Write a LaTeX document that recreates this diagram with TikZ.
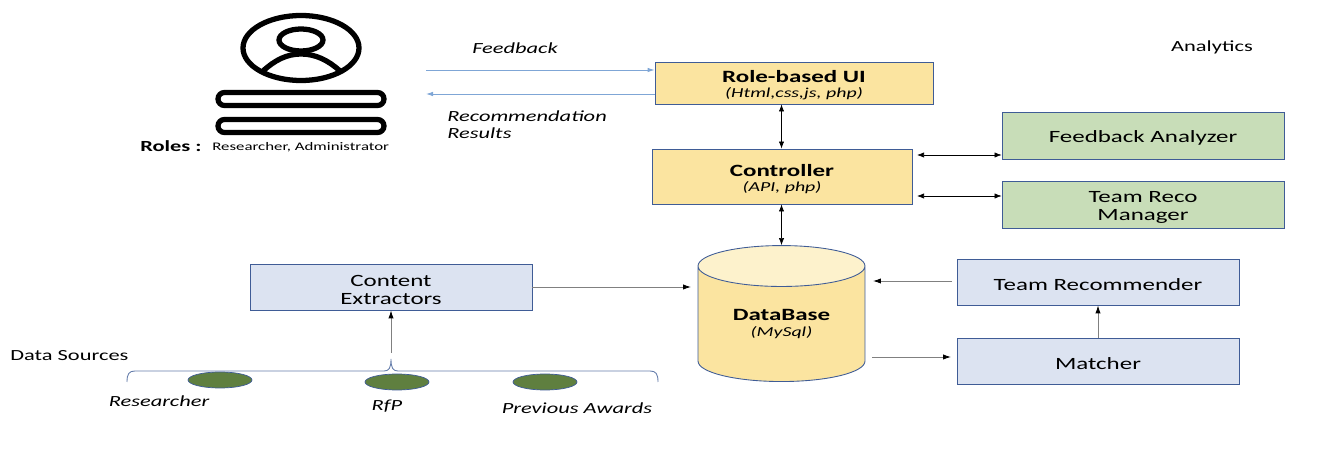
\documentclass[tikz,border=0pt]{standalone}
\usepackage{fontspec}
\setmainfont{Carlito}[FakeStretch=1.45]
\usetikzlibrary{shapes.geometric, arrows.meta}
\definecolor{goldbox}{HTML}{FBE4A0}
\definecolor{goldtop}{HTML}{FDF2CC}
\definecolor{greenbox}{HTML}{C8DDB8}
\definecolor{bluebox}{HTML}{DCE3F1}
\definecolor{boxline}{HTML}{3F5C96}
\definecolor{bluearrow}{HTML}{7FA6D6}
\definecolor{sourcefill}{HTML}{5F7F3F}
\newcommand{\subtext}{\fontsize{7.8}{8}\selectfont\itshape}
\newcommand{\dropline}{\rule{0pt}{9.5pt}}
\tikzset{
	box/.style = {draw = boxline, line width = .5pt, minimum width = 5.64cm, align = center, inner sep = 0pt, font = \fontsize{9.8}{10.2}\selectfont},
	goldnode/.style = {box, fill = goldbox},
	greennode/.style = {box, fill = greenbox},
	bluenode/.style = {box, fill = bluebox},
	label/.style = {inner sep = 0pt, font = \fontsize{8.8}{10}\selectfont},
	itlabel/.style = {inner sep = 0pt, font = \fontsize{8.8}{10}\selectfont\itshape},
	source/.style = {ellipse, draw = boxline, fill = sourcefill, line width = .4pt, minimum width = 1.28cm, minimum height = .32cm, inner sep = 0pt},
	link/.style = {-{Latex[length = 4.5pt, width = 3pt, black]}, line width = .5pt, black!50},
	duplex/.style = {{Latex[length = 4pt, width = 3pt]}-{Latex[length = 4pt, width = 3pt]}, line width = .35pt},
	reply/.style = {-{Latex[length = 4pt, width = 2.6pt]}, bluearrow, line width = .5pt},
}
\begin{document}
\begin{tikzpicture}[x = .02cm, y = -.02cm]
\useasboundingbox (0,0) rectangle (1326,462);
% Person icon
\draw[line width = 3pt] (301,48) ellipse (58 and 32.5);
\draw[line width = 3pt] (301,40) ellipse (22 and 11);
\draw[line width = 3pt] (263,71) .. controls (275,60) and (287,54) .. (301,54) .. controls (315,54) and (328,60) .. (340,71);
\draw[line width = 3pt, rounded corners = .13cm] (218,92.5) rectangle (384,105.5);
\draw[line width = 3pt, rounded corners = .13cm] (218,119.5) rectangle (384,132.5);
\node[label, anchor = west, font = \fontsize{8.8}{10}\selectfont\bfseries] (rolestitle) at (140,146) {Roles :};
\node[label, anchor = west, font = \fontsize{6.6}{8}\selectfont] (roleslist) at (212,147) {Researcher, Administrator};
% Boxes
\node[goldnode, minimum width = 5.56cm, minimum height = .84cm] (ui) at (794,83) {\dropline\textbf{Role-based UI}\\[-1.5pt]{\subtext (Html,css,js, php)}};
\node[goldnode, minimum width = 5.2cm, minimum height = 1.1cm] (controller) at (782,176.5) {\dropline\textbf{Controller}\\[-1.5pt]{\subtext (API, php)}};
\node[greennode, minimum height = .94cm] (analyzer) at (1143,135.5) {\dropline Feedback Analyzer};
\node[greennode, minimum height = .94cm] (manager) at (1143,204.5) {\dropline Team Reco\\Manager};
\node[bluenode, minimum height = .92cm] (extractors) at (391,287) {\dropline Content\\Extractors};
\node[bluenode, minimum height = .92cm] (recommender) at (1098,282) {\dropline Team Recommender};
\node[bluenode, minimum height = .92cm] (matcher) at (1098,361) {\dropline Matcher};
\node[cylinder, shape border rotate = 90, draw = boxline, line width = .5pt, aspect = .42, cylinder uses custom fill, cylinder body fill = goldbox, cylinder end fill = goldtop, minimum width = 3.34cm, minimum height = 2.72cm, align = center, inner sep = 0pt, font = \fontsize{9.8}{10.2}\selectfont] (database) at (781.5,324) {\textbf{DataBase}\\[-1.5pt]{\subtext (MySql)}};
% Labels
\node[itlabel] (feedbacklabel) at (515,48) {Feedback};
\node[itlabel, anchor = north west, align = left] (resultslabel) at (447,110) {Recommendation\\Results};
\node[label] (analytics) at (1212,47) {Analytics};
\node[label, anchor = west] (sourceslabel) at (10,356) {Data Sources};
% Data sources
\node[source] (sourceA) at (220,380) {};
\node[source] (sourceB) at (397,382) {};
\node[source] (sourceC) at (545,382) {};
\node[itlabel] (researcher) at (159,401) {Researcher};
\node[itlabel] (rfp) at (387,406) {RfP};
\node[itlabel] (awards) at (577,408) {Previous Awards};
\coordinate (bracetip) at (391,359);
\draw[boxline!80, line width = .5pt] (127,382) .. controls (127,374) and (129,371) .. (135,371) -- (384,371) .. controls (389,371) and (391,368) .. (bracetip) .. controls (391,368) and (393,371) .. (398,371) -- (650,371) .. controls (656,371) and (658,374) .. (658,382);
% Free ends
\coordinate (feedbackstart) at (426,70);
\coordinate (resultsend) at (426,94);
\coordinate (axis) at (781.5,0);
\coordinate (analyzerend) at (917,155);
\coordinate (managerend) at (917,196);
\coordinate (dbin) at (691,287);
\coordinate (dbout) at (872,357);
\coordinate (recoend) at (873,281);
\coordinate (recostart) at (952,281);
\coordinate (matcherend) at (951,357);
\coordinate (braceend) at (391,353);
% Arrows
\draw[reply] (feedbackstart) -- (feedbackstart -| ui.west);
\draw[reply] (resultsend -| ui.west) -- (resultsend);
\draw[duplex] (axis |- ui.south) -- (axis |- controller.north);
\draw[duplex] (axis |- controller.south) -- (axis |- database.north);
\draw[duplex] (analyzerend) -- (analyzerend -| analyzer.west);
\draw[duplex] (managerend) -- (managerend -| manager.west);
\draw[link] (extractors.east |- dbin) -- (dbin);
\draw[link] (recostart) -- (recoend);
\draw[link] (dbout) -- (matcherend);
\draw[link] (matcher.north) -- (recommender.south);
\draw[link] (braceend) -- (extractors.south);
\end{tikzpicture}
\end{document}
